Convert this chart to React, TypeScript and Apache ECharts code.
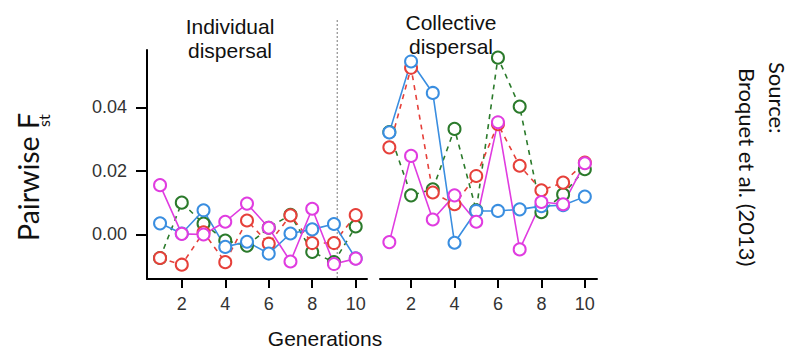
import React, { useEffect, useRef } from "react";
import * as echarts from "echarts";

const generations = [1, 2, 3, 4, 5, 6, 7, 8, 9, 10];
const xTickValues = [2, 4, 6, 8, 10];
const yTickValues = [0, 0.02, 0.04];

// Individual dispersal panel
const indMagenta = [0.0155, 0.0002, 0.0, 0.004, 0.0097, 0.0021, -0.0085, 0.0081, -0.0093, -0.0076];
const indBlue = [0.0035, 0.0003, 0.0076, -0.0039, -0.0023, -0.006, 0.0003, 0.0016, 0.0033, -0.0075];
const indGreen = [-0.0074, 0.01, 0.0034, -0.0019, -0.0035, 0.0021, 0.0062, -0.0055, -0.0087, 0.0025];
const indRed = [-0.0074, -0.0095, 0.0007, -0.0087, 0.0044, -0.0029, 0.006, -0.0027, -0.0027, 0.0061];

// Collective dispersal panel
const colMagenta = [-0.0024, 0.0247, 0.0047, 0.0123, 0.004, 0.0353, -0.0047, 0.0102, 0.0095, 0.0224];
const colBlue = [0.0321, 0.0544, 0.0445, -0.0026, 0.0074, 0.0074, 0.0079, 0.0089, 0.0092, 0.0119];
const colGreen = [0.0322, 0.0123, 0.0142, 0.0332, 0.0076, 0.0556, 0.0402, 0.007, 0.0126, 0.0205];
const colRed = [0.0274, 0.0524, 0.0132, 0.0095, 0.0184, 0.0347, 0.0216, 0.0139, 0.0163, 0.0226];

const MAGENTA = "#e03ce0";
const BLUE = "#3a8ee0";
const GREEN = "#2b7a2b";
const RED = "#e6403a";
const FONT = "Liberation Sans";

function makeSeries(name: string, values: number[], color: string, dashed: boolean, idx: number) {
  return {
    type: "line",
    name,
    xAxisIndex: idx,
    yAxisIndex: idx,
    data: generations.map((g, i) => [g, values[i]]),
    symbol: "emptyCircle",
    symbolSize: 12,
    lineStyle: { color, width: 1.6, type: dashed ? [5, 5] : "solid" },
    itemStyle: { color, borderColor: color, borderWidth: 1.4 },
    emphasis: { disabled: true },
  };
}

export default function App() {
  const ref = useRef<HTMLDivElement>(null);
  useEffect(() => {
    const chart = echarts.init(ref.current!, null, { renderer: "svg" });
    const xAxisBase = {
      type: "value",
      axisLine: { show: true, onZero: false, lineStyle: { color: "#000", width: 2 } },
      axisTick: { show: true, length: 9, inside: false, lineStyle: { color: "#000", width: 2 }, customValues: xTickValues },
      axisLabel: { fontFamily: FONT, fontSize: 18, color: "#333", margin: 16, customValues: xTickValues },
      splitLine: { show: false },
    };
    const option: any = {
      animation: false,
      backgroundColor: "#fff",
      grid: [
        { left: 147, top: 50, width: 220, height: 229 },
        { left: 380, top: 50, width: 217, height: 229 },
      ],
      xAxis: [
        { ...xAxisBase, gridIndex: 0, min: 0.4, max: 10.52 },
        { ...xAxisBase, gridIndex: 1, min: 0.57, max: 10.56 },
      ],
      yAxis: [
        {
          type: "value",
          gridIndex: 0,
          min: -0.014,
          max: 0.058,
          axisLine: { show: true, onZero: false, lineStyle: { color: "#000", width: 2 } },
          axisTick: { show: true, length: 11, lineStyle: { color: "#000", width: 2 }, customValues: yTickValues },
          axisLabel: {
            fontFamily: FONT,
            fontSize: 18,
            color: "#333",
            margin: 20,
            customValues: yTickValues,
            formatter: (v: number) => v.toFixed(2),
          },
          splitLine: { show: false },
        },
        { type: "value", gridIndex: 1, min: -0.014, max: 0.058, show: false, splitLine: { show: false } },
      ],
      series: [
        makeSeries("Individual green", indGreen, GREEN, true, 0),
        makeSeries("Individual red", indRed, RED, true, 0),
        makeSeries("Individual blue", indBlue, BLUE, false, 0),
        makeSeries("Individual magenta", indMagenta, MAGENTA, false, 0),
        makeSeries("Collective green", colGreen, GREEN, true, 1),
        makeSeries("Collective red", colRed, RED, true, 1),
        makeSeries("Collective blue", colBlue, BLUE, false, 1),
        makeSeries("Collective magenta", colMagenta, MAGENTA, false, 1),
      ],
      graphic: {
        elements: [
          { id: "t1", type: "text", x: 230, y: 26, style: { text: "Individual", fontFamily: FONT, fontSize: 21, fill: "#111", textAlign: "center", textVerticalAlign: "middle" } },
          { id: "t2", type: "text", x: 230, y: 50, style: { text: "dispersal", fontFamily: FONT, fontSize: 21, fill: "#111", textAlign: "center", textVerticalAlign: "middle" } },
          { id: "t3", type: "text", x: 451, y: 22, style: { text: "Collective", fontFamily: FONT, fontSize: 21, fill: "#111", textAlign: "center", textVerticalAlign: "middle" } },
          { id: "t4", type: "text", x: 451, y: 46, style: { text: "dispersal", fontFamily: FONT, fontSize: 21, fill: "#111", textAlign: "center", textVerticalAlign: "middle" } },
          { id: "xl", type: "text", x: 325, y: 338, style: { text: "Generations", fontFamily: FONT, fontSize: 21, fill: "#111", textAlign: "center", textVerticalAlign: "middle" } },
          { id: "yl", type: "text", x: 28, y: 241, rotation: Math.PI / 2, style: { text: "Pairwise F", fontFamily: "Lato", fontSize: 28.5, fill: "#111", textAlign: "left", textVerticalAlign: "middle" } },
          { id: "ys", type: "text", x: 43, y: 127, rotation: Math.PI / 2, style: { text: "st", fontFamily: "Lato", fontSize: 16, fill: "#111", textAlign: "left", textVerticalAlign: "middle" } },
          { id: "s1", type: "text", x: 777, y: 62, rotation: -Math.PI / 2, style: { text: "Source:", fontFamily: "Lato", fontSize: 22, fill: "#111", textAlign: "left", textVerticalAlign: "middle" } },
          { id: "s2", type: "text", x: 747, y: 68, rotation: -Math.PI / 2, style: { text: "Broquet et al. (2013)", fontFamily: "Lato", fontSize: 22, fill: "#111", textAlign: "left", textVerticalAlign: "middle" } },
        ],
      },
    };
    chart.setOption(option);
    const dividerX = chart.convertToPixel({ xAxisIndex: 0 }, 9.15) as number;
    const axisY = chart.convertToPixel({ yAxisIndex: 0 }, -0.014) as number;
    chart.setOption({
      graphic: {
        elements: [
          {
            id: "divider",
            type: "line",
            shape: { x1: dividerX, y1: 20, x2: dividerX, y2: axisY },
            style: { stroke: "#777", lineWidth: 1, lineDash: [2, 2] },
            z: 1,
          },
        ],
      },
    });
    return () => chart.dispose();
  }, []);
  return <div ref={ref} style={{ position: "fixed", left: 0, top: 0, width: 800, height: 364 }} />;
}
